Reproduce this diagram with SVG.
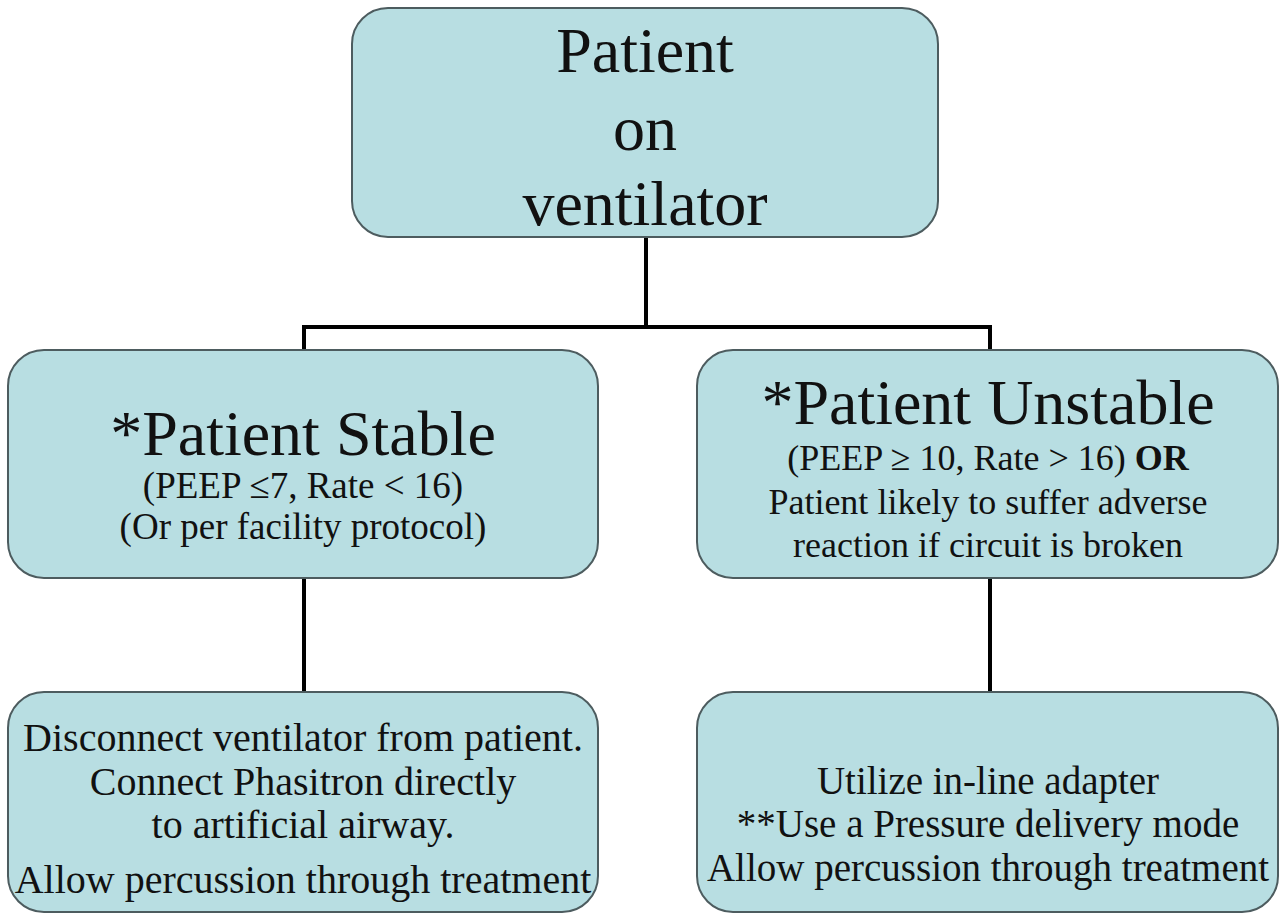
<svg xmlns="http://www.w3.org/2000/svg" width="1281" height="916" viewBox="0 0 1281 916">
<style>
.box{fill:#b8dee2;stroke:#4d5c5f;stroke-width:2}
text{font-family:"Liberation Serif","Times New Roman",serif;fill:#111;text-anchor:middle}
.h{font-size:64px}
.s{font-size:37px}
.s2{font-size:36px}
.b{font-size:40px}
.b2{font-size:39px}
.conn{stroke:#000;stroke-width:4;fill:none}
</style>
<rect width="1281" height="916" fill="#fff"/>
<g id="connectors">
<path class="conn" d="M646 237V327M304 327H990M304 325V350M990 325V350M304 578V692M990 578V692"/>
</g>
<g id="top">
<rect class="box" x="352" y="8" width="586" height="229" rx="36"/>
<text class="h" x="645" y="72">Patient</text>
<text class="h" x="645" y="150">on</text>
<text class="h" x="645" y="225">ventilator</text>
</g>
<g id="stable">
<rect class="box" x="8" y="350" width="590" height="228" rx="36"/>
<text class="h" x="303" y="455">*Patient Stable</text>
<text class="s" x="303" y="498">(PEEP ≤7, Rate &lt; 16)</text>
<text class="s" x="303" y="539">(Or per facility protocol)</text>
</g>
<g id="unstable">
<rect class="box" x="697" y="350" width="581" height="228" rx="36"/>
<text class="h" x="988" y="424">*Patient Unstable</text>
<text class="s2" x="988" y="470">(PEEP ≥ 10, Rate &gt; 16) <tspan font-weight="bold">OR</tspan></text>
<text class="s2" x="988" y="514">Patient likely to suffer adverse</text>
<text class="s2" x="988" y="557">reaction if circuit is broken</text>
</g>
<g id="stable-action">
<rect class="box" x="8" y="692" width="590" height="220" rx="36"/>
<text class="b" x="303" y="751">Disconnect ventilator from patient.</text>
<text class="b" x="303" y="795">Connect Phasitron directly</text>
<text class="b" x="303" y="838">to artificial airway.</text>
<text class="b" x="303" y="893">Allow percussion through treatment</text>
</g>
<g id="unstable-action">
<rect class="box" x="697" y="692" width="581" height="220" rx="36"/>
<text class="b2" x="988" y="794">Utilize in-line adapter</text>
<text class="b2" x="988" y="837">**Use a Pressure delivery mode</text>
<text class="b2" x="988" y="881">Allow percussion through treatment</text>
</g>
</svg>
